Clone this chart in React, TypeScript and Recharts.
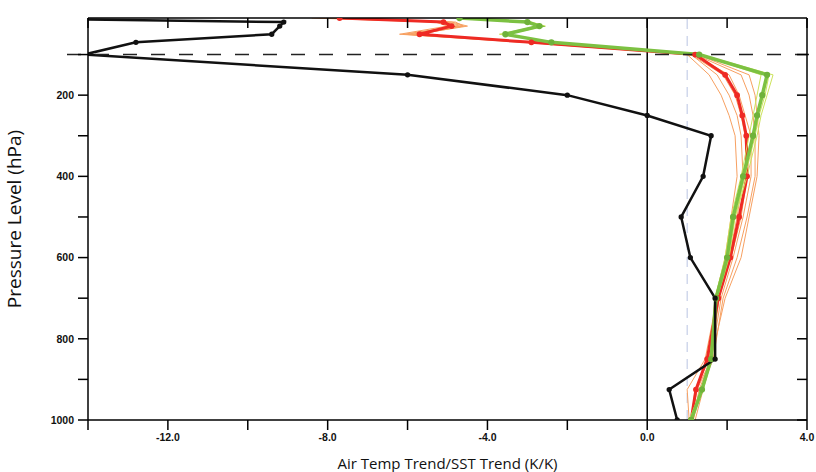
import { LineChart, Line, XAxis, YAxis, ReferenceLine, Label } from "recharts"

// pressure levels (hPa)
const levels = [10, 20, 30, 50, 70, 100, 150, 200, 250, 300, 400, 500, 600, 700, 850, 925, 1000]

// observed ratio (black)
const observed = [-17, -9.1, -9.2, -9.4, -12.8, -14.1, -6.0, -2.0, 0.0, 1.6, 1.4, 0.85, 1.08, 1.7, 1.7, 0.55, 0.75]

// model ensemble mean (red) and members (thin orange)
const redMean = [-7.7, -5.1, -4.9, -5.7, -2.9, 1.2, 1.95, 2.25, 2.38, 2.48, 2.5, 2.3, 2.08, 1.78, 1.5, 1.22, 1.1]
const orange1 = [-8.4, -5.3, -5.0, -6.2, -3.1, 1.0, 1.55, 1.85, 2.05, 2.2, 2.25, 2.1, 1.95, 1.7, 1.55, 1.2, 1.1]
const orange2 = [-8.0, -5.0, -4.6, -5.9, -3.0, 1.1, 1.75, 2.05, 2.25, 2.35, 2.4, 2.25, 2.05, 1.8, 1.6, 1.25, 1.1]
const orange3 = [-7.6, -4.9, -4.5, -5.8, -2.9, 1.15, 2.05, 2.3, 2.45, 2.6, 2.6, 2.4, 2.15, 1.85, 1.6, 1.3, 1.15]
const orange4 = [-7.9, -5.2, -4.8, -6.0, -2.95, 1.2, 2.35, 2.55, 2.65, 2.7, 2.7, 2.5, 2.25, 1.9, 1.65, 1.35, 1.15]
const orange5 = [-7.5, -4.8, -4.6, -5.7, -2.85, 1.25, 2.55, 2.7, 2.75, 2.8, 2.75, 2.55, 2.35, 1.95, 1.6, 1.4, 1.2]
const orange6 = [-8.2, -5.1, -4.7, -6.1, -3.0, 1.1, 1.9, 2.2, 2.35, 2.45, 2.5, 2.35, 2.1, 1.75, 1.45, 1.0, 1.05]

// second ensemble mean (green) and members (thin yellow-green)
const greenMean = [-4.7, -3.0, -2.7, -3.55, -2.4, 1.3, 3.0, 2.88, 2.75, 2.65, 2.4, 2.15, 2.0, 1.72, 1.6, 1.37, 1.1]
const green1 = [-4.6, -2.9, -2.55, -3.5, -2.35, 1.35, 3.15, 3.0, 2.85, 2.75, 2.5, 2.2, 2.05, 1.75, 1.62, 1.4, 1.1]
const green2 = [-4.8, -3.1, -2.75, -3.7, -2.45, 1.3, 2.85, 2.75, 2.65, 2.55, 2.35, 2.1, 1.95, 1.7, 1.58, 1.35, 1.05]
const green3 = [-4.7, -3.0, -2.6, -3.6, -2.4, 1.3, 3.05, 2.95, 2.8, 2.7, 2.45, 2.2, 2.0, 1.72, 1.6, 1.38, 1.1]

const xTicks = [-14, -12, -10, -8, -6, -4, -2, 0, 2, 4]
const xLabelled = [-12, -8, -4, 0, 4]
const yTicks = [100, 200, 300, 400, 500, 600, 700, 800, 900, 1000]

const orangeMembers = [orange1, orange2, orange3, orange4, orange5, orange6]
const greenMembers = [green1, green2, green3]

const rows = levels.map((p, i) => {
  const row: Record<string, number> = {
    p,
    obs: observed[i],
    red: redMean[i],
    green: greenMean[i],
  }
  orangeMembers.forEach((m, k) => (row["o" + k] = m[i]))
  greenMembers.forEach((m, k) => (row["g" + k] = m[i]))
  return row
})

const MARGIN_TOP = 17
const TOP_AXIS_H = 1
const PLOT_TOP = MARGIN_TOP + TOP_AXIS_H

const tickFont = { fontSize: 10.5, fontFamily: "Liberation Sans", fontWeight: 700, fill: "#111" }
const axisStroke = { stroke: "#000", strokeWidth: 1.5 }
const blank = () => ""

// bottom tick label, plus the matching inward tick on the top frame
function XTick(props: any) {
  const { x, y, payload } = props
  const v = payload.value as number
  return (
    <g>
      <line x1={x} y1={PLOT_TOP} x2={x} y2={PLOT_TOP + 10} stroke="#000" strokeWidth={1.5} />
      {xLabelled.includes(v) && (
        <text x={x} y={y} dy="0.71em" textAnchor="middle" {...tickFont}>
          {v.toFixed(1)}
        </text>
      )}
    </g>
  )
}

export default function App() {
  return (
    <div>
      <style>{"html,body{margin:0;padding:0;overflow:hidden}"}</style>
      <LineChart
        width={816}
        height={472}
        layout="vertical"
        data={rows}
        margin={{ top: MARGIN_TOP, right: 8, bottom: 0, left: 0 }}
      >
        <XAxis
          type="number"
          domain={[-14, 4]}
          allowDataOverflow
          ticks={xTicks}
          interval={0}
          tick={<XTick />}
          tickSize={10}
          tickMargin={4}
          axisLine={axisStroke}
          tickLine={axisStroke}
          height={52}
        >
          <Label
            value="Air Temp Trend/SST Trend (K/K)"
            position="insideBottom"
            offset={3}
            fontSize={15}
            fontFamily="Open Sans"
            fill="#111"
          />
        </XAxis>
        <XAxis
          xAxisId="t"
          orientation="top"
          type="number"
          dataKey="obs"
          domain={[-14, 4]}
          allowDataOverflow
          ticks={xTicks}
          interval={0}
          tickFormatter={blank}
          tick={tickFont}
          tickLine={false}
          axisLine={axisStroke}
          height={TOP_AXIS_H}
        />
        <YAxis
          type="number"
          dataKey="p"
          domain={[10, 1000]}
          allowDataOverflow
          ticks={yTicks}
          interval={0}
          tickFormatter={(v: number) => (v % 200 === 0 ? String(v) : "")}
          tick={tickFont}
          tickSize={10}
          tickMargin={4}
          axisLine={axisStroke}
          tickLine={axisStroke}
          width={88}
        >
          <Label
            content={({ viewBox }: any) => {
              const cy = viewBox.y + viewBox.height / 2
              return (
                <text
                  x={14}
                  y={cy}
                  transform={`rotate(-90 14 ${cy})`}
                  textAnchor="middle"
                  dominantBaseline="central"
                  fontSize={19}
                  fontFamily="Open Sans"
                  fill="#111"
                >
                  Pressure Level (hPa)
                </text>
              )
            }}
          />
        </YAxis>
        <YAxis
          yAxisId="r"
          orientation="right"
          type="number"
          dataKey="p"
          domain={[10, 1000]}
          allowDataOverflow
          ticks={yTicks}
          interval={0}
          tickFormatter={blank}
          tick={tickFont}
          tickSize={-10}
          axisLine={axisStroke}
          tickLine={axisStroke}
          width={1}
        />

        <ReferenceLine x={1} stroke="#b9c4e2" strokeWidth={1} strokeDasharray="10 7" />
        <ReferenceLine x={0} stroke="#000" strokeWidth={1.5} />

        {orangeMembers.map((_, k) => (
          <Line
            key={"o" + k}
            dataKey={"o" + k}
            stroke="#f7a061"
            strokeWidth={1}
            dot={false}
            isAnimationActive={false}
          />
        ))}
        <Line
          dataKey="red"
          stroke="#ee2a24"
          strokeWidth={3}
          dot={{ r: 1.4, fill: "#ee2a24", stroke: "#ee2a24" }}
          isAnimationActive={false}
        />
        {greenMembers.map((_, k) => (
          <Line
            key={"g" + k}
            dataKey={"g" + k}
            stroke="#cde35c"
            strokeWidth={1}
            dot={false}
            isAnimationActive={false}
          />
        ))}
        <Line
          dataKey="green"
          stroke="#7cc142"
          strokeWidth={3.5}
          dot={{ r: 1.4, fill: "#6fb23a", stroke: "#6fb23a" }}
          isAnimationActive={false}
        />
        <Line
          dataKey="obs"
          stroke="#111"
          strokeWidth={2.5}
          dot={{ r: 1.4, fill: "#111", stroke: "#111" }}
          isAnimationActive={false}
        />

        <ReferenceLine
          y={100}
          shape={(props: any) => (
            <line
              x1={props.x1 - 21}
              y1={props.y1}
              x2={props.x2 + 9}
              y2={props.y2}
              stroke="#222"
              strokeWidth={1.5}
              strokeDasharray="14 14"
            />
          )}
        />
      </LineChart>
    </div>
  )
}
